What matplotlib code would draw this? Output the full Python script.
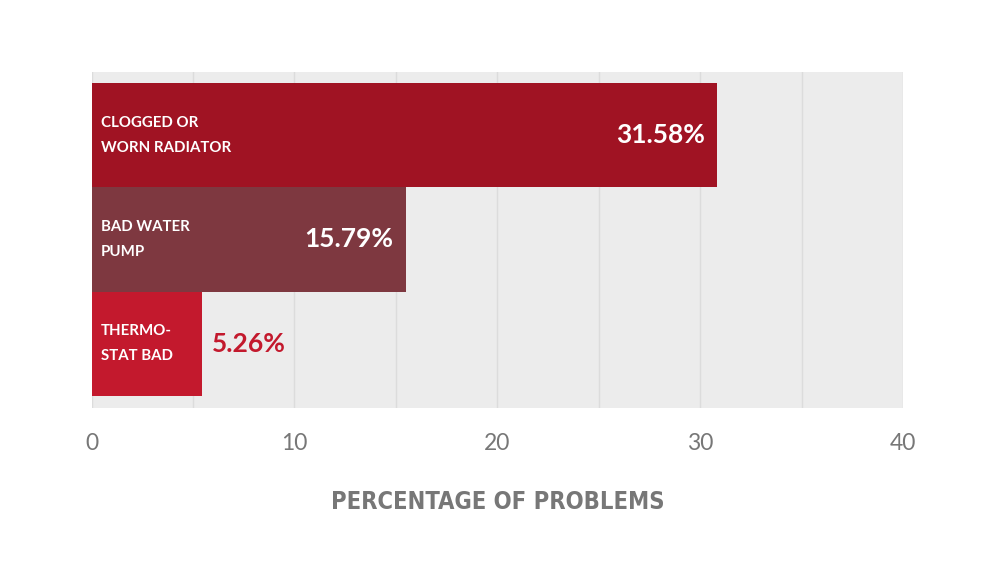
import matplotlib
matplotlib.use('Agg')
import matplotlib.pyplot as plt
import numpy as np

# values as drawn (bar lengths) and the labels printed on them
categories = ['CLOGGED OR\nWORN RADIATOR', 'BAD WATER\nPUMP', 'THERMO-\nSTAT BAD']
bar_values = [30.85, 15.48, 5.44]
value_labels = ['31.58%', '15.79%', '5.26%']
bar_colors = ['#a01323', '#7e3840', '#c3192d']
x_ticks = [0, 10, 20, 30, 40]

fig = plt.figure(figsize=(10.01, 5.81), dpi=100)
ax = fig.add_axes([91.5 / 1001, (581 - 408) / 581, (903 - 91.5) / 1001, (408 - 72) / 581])
ax.set_facecolor('#ececec')

y = np.arange(len(categories))
ax.barh(y, bar_values, height=1.0, color=bar_colors, zorder=2)

ax.set_xlim(0, 40)
ax.set_ylim(2.5 + 0.115, -0.5 - 0.105)

# vertical grid every 5
for gx in np.arange(0, 41, 5):
    ax.axvline(gx, color='#dcdcdc', linewidth=1, zorder=1)
ax.set_xticks(x_ticks)
ax.set_xticklabels([str(t) for t in x_ticks], fontfamily='Lato', fontsize=16.5, color='#777777')
ax.tick_params(axis='x', length=0, pad=18)
ax.set_yticks([])
for s in ax.spines.values():
    s.set_visible(False)

px = 40 / (903 - 91.5)
for i, (cat, v, lab) in enumerate(zip(categories, bar_values, value_labels)):
    ax.text(9.5 * px, i, cat, ha='left', va='center', color='white',
            fontfamily='Lato', fontweight='bold', fontsize=10.8, linespacing=2.0, zorder=3)
    if v > 10:
        ax.text(v - 12 * px, i, lab, ha='right', va='center', color='white',
                fontfamily='Lato', fontweight='bold', fontsize=19, zorder=3)
    else:
        ax.text(v + 10 * px, i, lab, ha='left', va='center', color=bar_colors[i],
                fontfamily='Lato', fontweight='bold', fontsize=19, zorder=3)

fig.text(498 / 1001, 1 - 502 / 581, 'PERCENTAGE OF PROBLEMS', ha='center', va='center',
         fontfamily='DejaVu Sans', fontstretch='condensed', fontweight='bold',
         fontsize=17, color='#777777')

fig.savefig('out.png', dpi=100)
